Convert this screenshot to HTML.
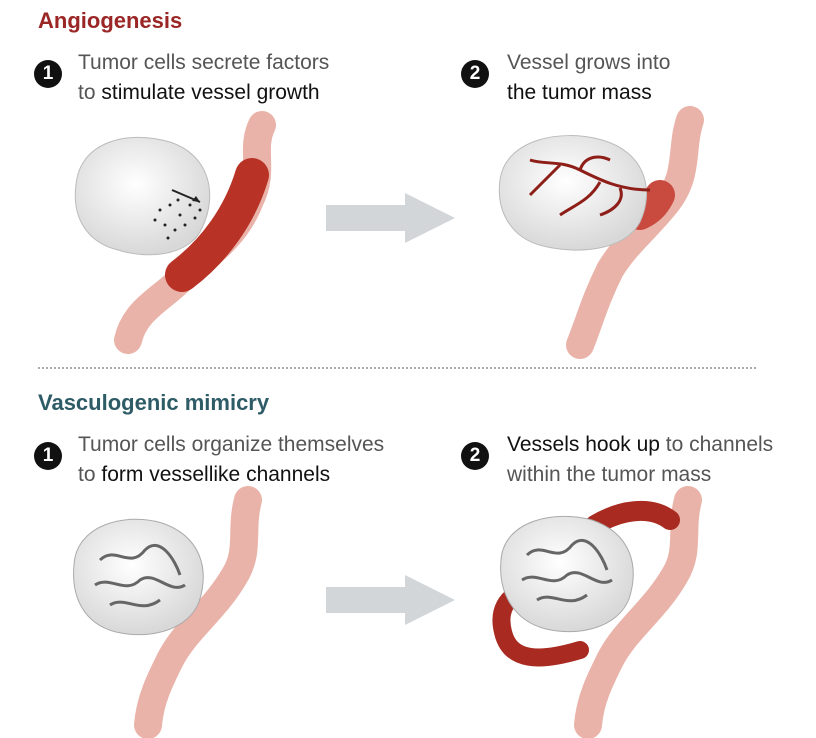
<!DOCTYPE html>
<html><head><meta charset="utf-8"><style>
html,body{margin:0;padding:0;background:#fff;}
body{width:816px;height:738px;overflow:hidden;position:relative;font-family:"Liberation Sans",sans-serif;}
.t{position:absolute;font-size:21px;color:#555;line-height:30px;white-space:nowrap}
.t b{font-weight:normal;color:#111}
.h{position:absolute;font-weight:bold;font-size:22px}
.n{position:absolute;width:28px;height:28px;border-radius:50%;background:#111;color:#fff;font-weight:bold;font-size:19px;text-align:center;line-height:28px}
</style></head><body>
<svg width="816" height="738" style="position:absolute;left:0;top:0">
<defs>
<radialGradient id="tg" cx="45%" cy="40%" r="60%"><stop offset="0" stop-color="#fff"/><stop offset="1" stop-color="#d8d8d8"/></radialGradient>
</defs>
<g fill="none" stroke-linecap="round">
<path d="M262 125 C250 150,265 170,250 200 C235 240,200 260,180 280 C160 300,135 310,128 340" stroke="#eab3a9" stroke-width="28"/>
<path d="M252 175 C240 215,215 250,182 275" stroke="#b83226" stroke-width="34"/>
</g>
<path d="M76 185 C80 140,130 130,170 142 C210 155,218 195,202 228 C190 255,150 260,118 250 C85 242,72 215,76 185Z" fill="url(#tg)" stroke="#bbb"/>
<g fill="#222">
<circle cx="160" cy="210" r="1.5"/><circle cx="170" cy="205" r="1.5"/><circle cx="180" cy="215" r="1.5"/><circle cx="165" cy="225" r="1.5"/><circle cx="190" cy="205" r="1.5"/><circle cx="175" cy="230" r="1.5"/><circle cx="155" cy="220" r="1.5"/><circle cx="185" cy="225" r="1.5"/><circle cx="195" cy="218" r="1.5"/><circle cx="168" cy="238" r="1.5"/><circle cx="200" cy="210" r="1.5"/><circle cx="178" cy="200" r="1.5"/>
<path d="M172 190 L200 202" stroke="#222" stroke-width="2"/><path d="M200 202 l-8 -1 l4 -5z"/>
</g>
<g fill="none" stroke-linecap="round">
<path d="M690 120 C680 150,690 175,665 205 C640 235,625 245,610 270 C595 300,590 320,580 345" stroke="#eab3a9" stroke-width="28"/>
<path d="M660 195 C655 205,650 210,640 215" stroke="#c94a3e" stroke-width="30"/>
</g>
<path d="M500 180 C505 140,560 128,602 140 C645 152,655 190,640 222 C625 250,580 255,543 246 C510 238,496 210,500 180Z" fill="url(#tg)" stroke="#bbb"/>
<g fill="none" stroke="#8e1e18" stroke-width="3">
<path d="M650 190 C620 190,600 180,580 170 C560 160,545 165,530 160"/>
<path d="M600 182 C590 200,575 205,560 215"/><path d="M580 170 C585 155,600 155,610 160"/>
<path d="M560 165 C550 175,540 185,530 195"/><path d="M620 188 C625 200,615 210,600 215"/>
</g>
<path d="M326 205 H405 V193 L455 218 L405 243 V231 H326Z" fill="#d3d6d9"/>
<path d="M326 587 H405 V575 L455 600 L405 625 V613 H326Z" fill="#d3d6d9"/>
<line x1="38" y1="368" x2="758" y2="368" stroke="#aaa" stroke-width="2" stroke-dasharray="2 2"/>
<path d="M248 500 C240 530,250 550,235 575 C215 610,185 630,170 660 C160 680,150 700,148 725" fill="none" stroke="#eab3a9" stroke-width="28" stroke-linecap="round"/>
<path d="M74 565 C76 525,125 512,162 523 C200 536,210 568,199 602 C188 630,150 640,116 632 C84 624,71 597,74 565Z" fill="url(#tg)" stroke="#aaa"/>
<g fill="none" stroke="#666" stroke-width="3">
<path d="M100 560 C115 545,130 570,145 550 C160 535,175 560,180 575"/><path d="M95 585 C110 575,125 595,140 580 C155 570,170 595,185 585"/><path d="M110 605 C125 595,140 615,160 600"/>
</g>
<g fill="none" stroke-linecap="round">
<path d="M688 500 C680 530,690 550,675 575 C655 610,625 630,610 660 C600 680,590 700,588 725" stroke="#eab3a9" stroke-width="28"/>
<path d="M595 525 C620 510,650 505,670 520" stroke="#a82a20" stroke-width="20"/>
<path d="M528 590 C505 595,498 612,503 632 C510 662,540 662,580 650" stroke="#a82a20" stroke-width="18"/>
</g>
<path d="M501 560 C504 520,555 510,592 520 C630 533,640 565,629 599 C618 627,580 637,546 629 C514 621,498 593,501 560Z" fill="url(#tg)" stroke="#aaa"/>
<g fill="none" stroke="#666" stroke-width="3">
<path d="M527 555 C542 540,557 565,572 545 C587 530,602 555,607 570"/><path d="M522 580 C537 570,552 590,567 575 C582 565,597 590,612 580"/><path d="M537 600 C552 590,567 610,587 595"/>
</g>
</svg>
<div class="h" style="left:38px;top:8px;color:#9a2626">Angiogenesis</div>
<div class="n" style="left:34px;top:60px">1</div>
<div class="t" style="left:78px;top:48px">Tumor cells secrete factors<br>to <b>stimulate vessel growth</b></div>
<div class="n" style="left:461px;top:60px">2</div>
<div class="t" style="left:507px;top:48px">Vessel grows into<br><b>the tumor mass</b></div>
<div class="h" style="left:38px;top:390px;color:#2e5c66">Vasculogenic mimicry</div>
<div class="n" style="left:34px;top:442px">1</div>
<div class="t" style="left:78px;top:430px">Tumor cells organize themselves<br>to <b>form vessellike channels</b></div>
<div class="n" style="left:461px;top:442px">2</div>
<div class="t" style="left:507px;top:430px"><b>Vessels hook up</b> to channels<br>within the tumor mass</div>
</body></html>
